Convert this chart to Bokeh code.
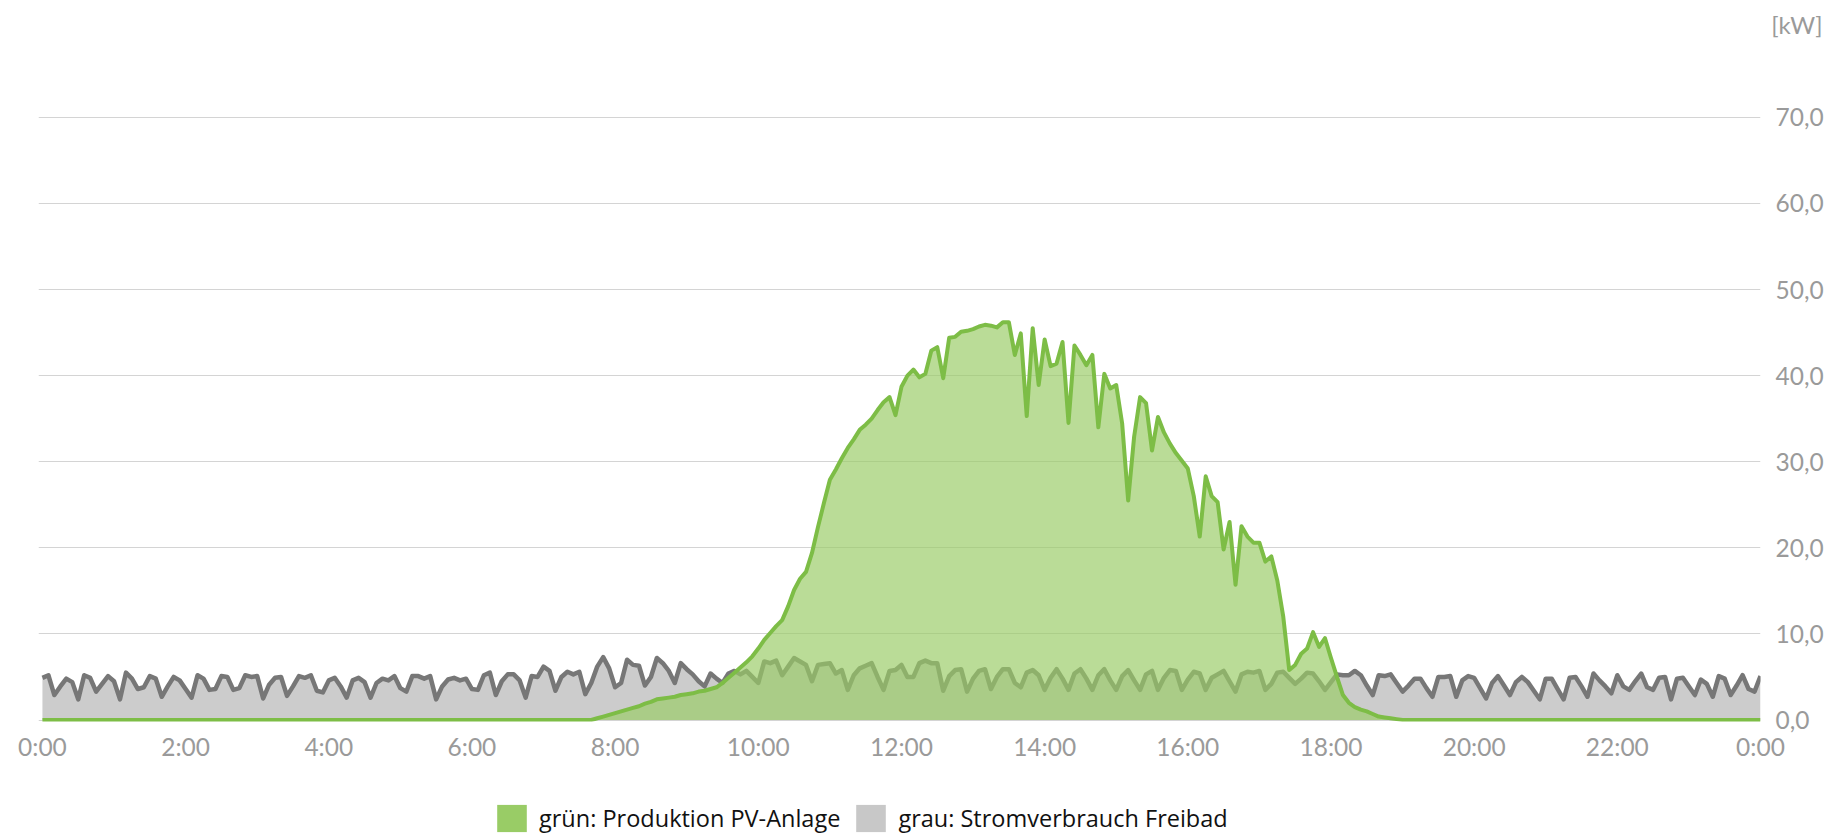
from bokeh.plotting import figure
from bokeh.layouts import column
from bokeh.models import (Range1d, FixedTicker, Legend, LegendItem,
                          ColumnDataSource, Title)
from bokeh.embed import file_html
from bokeh.resources import INLINE

# ---- data (5-minute values, 0:00 .. 24:00) ----
tick_hours = [0, 2, 4, 6, 8, 10, 12, 14, 16, 18, 20, 22, 24]
tick_labels = ["0:00", "2:00", "4:00", "6:00", "8:00", "10:00", "12:00",
               "14:00", "16:00", "18:00", "20:00", "22:00", "0:00"]
y_ticks = [0, 10, 20, 30, 40, 50, 60, 70]
y_labels = ["0,0", "10,0", "20,0", "30,0", "40,0", "50,0", "60,0", "70,0"]
unit_label = "[kW]"
label_pv = "grün: Produktion PV-Anlage"
label_cons = "grau: Stromverbrauch Freibad"

consumption = [
    4.9, 5.2, 2.9, 3.9, 4.8, 4.4, 2.4, 5.2, 4.9, 3.3,
    4.2, 5.1, 4.5, 2.4, 5.5, 4.8, 3.6, 3.8, 5.1, 4.8,
    2.7, 3.9, 5.0, 4.6, 3.6, 2.6, 5.2, 4.8, 3.5, 3.6,
    5.1, 5.0, 3.5, 3.7, 5.2, 5.0, 5.1, 2.5, 4.1, 4.9,
    5.0, 2.8, 3.9, 5.1, 4.9, 5.2, 3.4, 3.2, 4.6, 4.9,
    3.9, 2.6, 4.6, 4.9, 4.4, 2.6, 4.3, 4.8, 4.6, 5.1,
    3.7, 3.3, 5.1, 5.1, 4.8, 5.1, 2.4, 3.9, 4.7, 4.9,
    4.6, 4.8, 3.6, 3.5, 5.2, 5.5, 2.9, 4.5, 5.3, 5.3,
    4.6, 2.6, 5.1, 5.0, 6.2, 5.7, 3.4, 5.0, 5.6, 5.3,
    5.6, 3.0, 4.3, 6.2, 7.3, 6.0, 3.8, 4.3, 7.0, 6.4,
    6.3, 4.0, 5.0, 7.2, 6.6, 5.7, 4.3, 6.6, 5.9, 5.3,
    4.5, 3.9, 5.4, 4.8, 4.3, 5.4, 5.7, 5.3, 5.7, 5.0,
    4.3, 6.8, 6.6, 6.9, 5.2, 6.2, 7.2, 6.8, 6.4, 4.5,
    6.4, 6.5, 6.6, 5.4, 5.8, 3.5, 5.2, 6.0, 6.3, 6.6,
    5.0, 3.5, 5.7, 5.8, 6.4, 5.0, 5.0, 6.6, 6.9, 6.6,
    6.6, 3.4, 5.1, 5.8, 5.9, 3.3, 4.8, 5.7, 5.9, 3.6,
    5.0, 5.9, 5.9, 4.3, 3.8, 5.5, 5.8, 5.2, 3.5, 4.9,
    5.9, 4.8, 3.5, 5.4, 5.9, 4.8, 3.5, 5.2, 5.9, 4.6,
    3.5, 5.1, 5.8, 4.6, 3.5, 5.3, 5.7, 3.5, 4.9, 5.8,
    5.7, 3.5, 4.7, 5.6, 5.4, 3.5, 4.9, 5.3, 5.7, 4.5,
    3.3, 5.3, 5.6, 5.5, 5.7, 3.5, 4.2, 5.5, 5.6, 4.9,
    4.2, 4.8, 5.5, 5.4, 4.5, 3.5, 4.4, 5.3, 5.2, 5.2,
    5.7, 5.2, 4.0, 2.9, 5.2, 5.1, 5.3, 4.3, 3.3, 4.0,
    4.8, 4.8, 3.7, 2.7, 5.0, 5.0, 5.1, 2.7, 4.6, 5.1,
    4.9, 3.7, 2.5, 4.3, 5.1, 4.0, 2.9, 4.4, 5.0, 4.4,
    3.4, 2.4, 4.8, 4.8, 3.6, 2.4, 4.9, 5.0, 3.9, 2.7,
    5.4, 4.6, 3.9, 3.1, 5.2, 3.9, 3.5, 4.5, 5.4, 3.8,
    3.5, 4.9, 5.0, 2.4, 4.8, 4.9, 3.9, 2.9, 4.7, 4.2,
    2.7, 5.1, 4.8, 2.9, 4.0, 5.2, 3.6, 3.3, 5.1,
]

pv_night_morning = [0.0] * 92
pv_day = [
    0.0, 0.2, 0.4, 0.6, 0.8, 1.0, 1.2, 1.4, 1.6, 1.9,
    2.1, 2.4, 2.5, 2.6, 2.7, 2.9, 3.0, 3.1, 3.3, 3.4,
    3.6, 3.8, 4.3, 4.9, 5.5, 6.1, 6.7, 7.4, 8.3, 9.3,
    10.1, 10.9, 11.6, 13.2, 15.1, 16.4, 17.2, 19.4, 22.4, 25.2,
    27.9, 29.1, 30.4, 31.6, 32.6, 33.7, 34.3, 35.0, 36.0, 36.9,
    37.5, 35.4, 38.7, 40.0, 40.7, 39.8, 40.2, 42.9, 43.3, 39.7,
    44.4, 44.5, 45.1, 45.2, 45.4, 45.7, 45.9, 45.8, 45.6, 46.2,
    46.2, 42.4, 44.9, 35.3, 45.5, 38.9, 44.2, 41.1, 41.4, 43.9,
    34.5, 43.5, 42.4, 41.2, 42.4, 34.0, 40.2, 38.5, 38.9, 34.4,
    25.5, 32.9, 37.5, 36.8, 31.3, 35.2, 33.4, 32.1, 31.0, 30.1,
    29.2, 26.0, 21.3, 28.3, 26.0, 25.3, 19.8, 23.0, 15.7, 22.5,
    21.3, 20.6, 20.6, 18.4, 19.0, 16.2, 12.0, 5.8, 6.4, 7.7,
    8.3, 10.2, 8.5, 9.5, 7.2, 5.0, 2.9, 2.0, 1.5, 1.2,
    1.0, 0.7, 0.4, 0.3, 0.2, 0.1,
]
pv_evening_night = [0.0] * 61
production = pv_night_morning + pv_day + pv_evening_night

hours = [i / 12 for i in range(len(consumption))]

src = ColumnDataSource(dict(x=hours, cons=consumption, pv=production,
                            zero=[0.0] * len(hours)))

# ---- main figure ----
W = 1836
H_MAIN, H_LEG = 780, 56
p = figure(width=W, height=H_MAIN, output_backend="svg", toolbar_location=None,
           x_range=Range1d(-0.055, 24), y_range=Range1d(-0.174, 78.92),
           y_axis_location="right",
           min_border_left=38, min_border_right=W - 1760,
           min_border_top=40, min_border_bottom=H_MAIN - 721)
p.outline_line_color = None
p.background_fill_color = "white"
p.border_fill_color = "white"

p.xgrid.visible = False
p.ygrid.ticker = FixedTicker(ticks=y_ticks)
p.ygrid.grid_line_color = "#d4d4d4"
p.ygrid.grid_line_width = 1

tick_font = "Lato"
p.xaxis.ticker = FixedTicker(ticks=tick_hours)
p.xaxis.major_label_overrides = {h: t for h, t in zip(tick_hours, tick_labels)}
p.yaxis.ticker = FixedTicker(ticks=y_ticks)
p.yaxis.major_label_overrides = {v: t for v, t in zip(y_ticks, y_labels)}
for ax in (p.xaxis[0], p.yaxis[0]):
    ax.axis_line_color = None
    ax.major_tick_line_color = None
    ax.minor_tick_line_color = None
    ax.major_tick_out = 0
    ax.major_tick_in = 0
    ax.major_label_text_font = tick_font
    ax.major_label_text_font_size = "24.5px"
    ax.major_label_text_color = "#9a9a9a"
p.xaxis.major_label_standoff = 10
p.yaxis.major_label_standoff = 15

p.varea(x="x", y1="zero", y2="cons", source=src, fill_color="#cccccc")
p.line(x="x", y="cons", source=src, line_color="#777777", line_width=4.5,
       line_join="round")
p.varea(x="x", y1="zero", y2="pv", source=src, fill_color="#99cc66",
        fill_alpha=0.68)
p.line(x="x", y="pv", source=src, line_color="#7dbd46", line_width=4,
       line_join="round")

p.add_layout(Title(text=unit_label, align="right", offset=-62, standoff=3,
                   text_font=tick_font, text_font_size="24px",
                   text_font_style="normal", text_color="#9a9a9a"), "above")

# ---- legend strip ----
q = figure(width=W, height=H_LEG, output_backend="svg", toolbar_location=None,
           x_range=Range1d(0, 1), y_range=Range1d(0, 1),
           x_axis_location=None, y_axis_location=None,
           min_border_left=0, min_border_right=0,
           min_border_top=0, min_border_bottom=0)
q.outline_line_color = None
q.grid.visible = False
q.background_fill_color = "white"
q.border_fill_color = "white"
# legend swatches only (placed outside the visible range)
g_leg = q.quad(left=[5], right=[6], bottom=[5], top=[6],
               fill_color="#99cc66", line_color=None)
c_leg = q.quad(left=[5], right=[6], bottom=[5], top=[6],
               fill_color="#c8c8c8", line_color=None)
legend = Legend(items=[LegendItem(label=label_pv, renderers=[g_leg]),
                       LegendItem(label=label_cons, renderers=[c_leg])],
                orientation="horizontal", location=(455, 1),
                glyph_width=37, glyph_height=34, label_standoff=9, spacing=12,
                padding=0, margin=0, border_line_color=None,
                background_fill_alpha=0,
                label_text_font="Open Sans", label_text_font_size="23.5px",
                label_text_color="#111111")
q.add_layout(legend)

layout = column(p, q, spacing=0)
open("out.html", "w").write(file_html(layout, INLINE))
